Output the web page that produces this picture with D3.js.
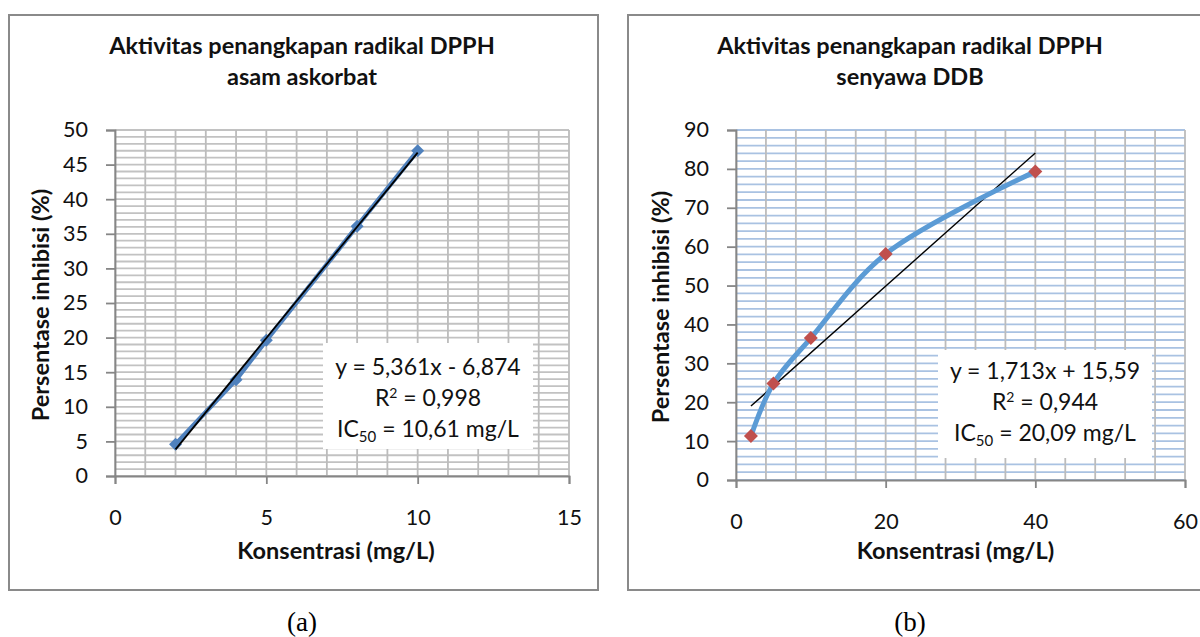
<!DOCTYPE html>
<html><head><meta charset="utf-8">
<script src="https://cdn.jsdelivr.net/npm/d3@7"></script>
<style>
html,body{margin:0;padding:0;background:#fff;}
svg{display:block;}
</style></head>
<body><svg id="c" width="1200" height="637"></svg>
<script>
// ---- data ----
const concA = [2, 4, 5, 8, 10];
const inhibA = [4.6, 13.9, 19.6, 36.1, 47.0];
const concB = [2, 5, 10, 20, 40];
const inhibB = [11.3, 24.8, 36.5, 58.1, 79.3];
const trendA = [5.361, -6.874];   // slope, intercept
const trendB = [1.713, 15.59];
const xTicksA = [0, 5, 10, 15];
const yTicksA = [0, 5, 10, 15, 20, 25, 30, 35, 40, 45, 50];
const xTicksB = [0, 20, 40, 60];
const yTicksB = [0, 10, 20, 30, 40, 50, 60, 70, 80, 90];
const titleA = ["Aktivitas penangkapan radikal DPPH", "asam askorbat"];
const titleB = ["Aktivitas penangkapan radikal DPPH", "senyawa DDB"];
const eqA = ["y = 5,361x - 6,874", "R² = 0,998", "10,61 mg/L"];
const eqB = ["y = 1,713x + 15,59", "R² = 0,944", "20,09 mg/L"];
const xLabel = "Konsentrasi (mg/L)";
const yLabel = "Persentase inhibisi (%)";
const panelLabels = ["(a)", "(b)"];

const svg = d3.select("#c");
const FONT = "Lato, 'Open Sans', sans-serif";

function drawChart(o) {
  const g = svg.append("g");
  g.append("rect").attr("x", o.box[0]).attr("y", o.box[1])
    .attr("width", o.box[2] - o.box[0]).attr("height", o.box[3] - o.box[1])
    .attr("fill", "#fff").attr("stroke", "#8a8a8a").attr("stroke-width", 2);

  const x = d3.scaleLinear().domain(o.xDomain).range([o.plot[0], o.plot[1]]);
  const y = d3.scaleLinear().domain(o.yDomain).range([o.plot[3], o.plot[2]]);

  const hg = d3.range(o.yDomain[0], o.yDomain[1] + 1e-9, o.yMinor);
  g.append("g").selectAll("line").data(hg).join("line")
    .attr("x1", o.plot[0]).attr("x2", o.plot[1])
    .attr("y1", d => y(d)).attr("y2", d => y(d))
    .attr("stroke", o.hColor).attr("stroke-width", 1.8);
  const vg = d3.range(o.xDomain[0], o.xDomain[1] + 1e-9, o.xMinor);
  g.append("g").selectAll("line").data(vg).join("line")
    .attr("y1", o.plot[2]).attr("y2", o.plot[3])
    .attr("x1", d => x(d)).attr("x2", d => x(d))
    .attr("stroke", "#bcbcbc").attr("stroke-width", 1.8);

  const ax = g.append("g").attr("transform", `translate(0,${o.plot[3]})`)
    .call(d3.axisBottom(x).tickValues(o.xTicks).tickSize(8).tickFormat(d3.format("d")));
  ax.selectAll(".tick text").attr("y", o.xLabelOff).attr("dy", null);
  const ay = g.append("g").attr("transform", `translate(${o.plot[0]},0)`)
    .call(d3.axisLeft(y).tickValues(o.yTicks).tickSize(9).tickPadding(18).tickFormat(d3.format("d")));
  [ax, ay].forEach(a => {
    a.select(".domain").attr("stroke", "#868686").attr("stroke-width", 1.8);
    a.selectAll(".tick line").attr("stroke", "#868686").attr("stroke-width", 1.8);
    a.selectAll(".tick text").attr("fill", "#111").style("font-family", FONT).style("font-size", "21.5px");
  });

  const tl = [o.xs[0], o.xs[o.xs.length - 1]].map(v => [v, o.trend[0] * v + o.trend[1]]);
  const pts = o.xs.map((v, i) => [v, o.ys[i]]);
  const line = d3.line().x(d => x(d[0])).y(d => y(d[1])).curve(o.curve);
  const straight = d3.line().x(d => x(d[0])).y(d => y(d[1]));

  if (o.trendFirst) {
    g.append("path").attr("d", straight(tl))
      .attr("stroke", "#000").attr("stroke-width", 1.4).attr("fill", "none");
  }
  g.append("path").attr("d", line(pts)).attr("fill", "none")
    .attr("stroke", o.lineColor).attr("stroke-width", o.lineWidth).attr("stroke-linejoin", "round");
  const ms = o.markerSize;
  g.append("g").selectAll("path").data(pts).join("path")
    .attr("d", `M0,${-ms}L${ms},0L0,${ms}L${-ms},0Z`)
    .attr("transform", d => `translate(${x(d[0])},${y(d[1])})`)
    .attr("fill", o.markerColor);
  if (!o.trendFirst) {
    g.append("path").attr("d", straight(tl))
      .attr("stroke", "#000").attr("stroke-width", 1.8).attr("fill", "none");
  }

  // equation box
  g.append("rect").attr("x", o.eqBox[0]).attr("y", o.eqBox[1])
    .attr("width", o.eqBox[2]).attr("height", o.eqBox[3]).attr("fill", "#fff");
  const cx = o.eqBox[0] + o.eqBox[2] / 2;
  const et = g.append("g").style("font-family", FONT).style("font-size", "23px")
    .attr("text-anchor", "middle").attr("fill", "#111");
  et.append("text").attr("x", cx).attr("y", o.eqBase).text(o.eq[0]);
  const r2 = o.eq[1].split("²");
  const t2 = et.append("text").attr("x", cx).attr("y", o.eqBase + 31);
  t2.append("tspan").text(r2[0]);
  t2.append("tspan").attr("dy", -8).style("font-size", "14px").text("2");
  t2.append("tspan").attr("dy", 8).text(r2[1]);
  const t3 = et.append("text").attr("x", cx).attr("y", o.eqBase + 62);
  t3.append("tspan").text("IC");
  t3.append("tspan").attr("dy", 5).style("font-size", "15px").text("50");
  t3.append("tspan").attr("dy", -5).text(" = " + o.eq[2]);

  const tt = g.append("g").style("font-family", FONT).style("font-size", "23.5px")
    .style("font-weight", "bold").attr("text-anchor", "middle").attr("fill", "#111");
  o.title.forEach((s, i) => tt.append("text").attr("x", o.titleX).attr("y", 54 + i * 31).text(s));
  g.append("text").attr("x", (o.plot[0] + o.plot[1]) / 2 + o.xLabelShift).attr("y", 559)
    .attr("text-anchor", "middle").style("font-family", FONT).style("font-size", "23.5px")
    .style("font-weight", "bold").attr("fill", "#111").text(xLabel);
  g.append("text").attr("transform", `translate(${o.yLabelX},${(o.plot[2] + o.plot[3]) / 2 + 2}) rotate(-90)`)
    .attr("text-anchor", "middle").style("font-family", FONT).style("font-size", "23.5px")
    .style("font-weight", "bold").attr("fill", "#111").text(yLabel);
  svg.append("text").attr("x", o.titleX).attr("y", 631).attr("text-anchor", "middle")
    .style("font-family", "'Liberation Serif', 'DejaVu Serif', serif").style("font-size", "27px")
    .text(o.panel);
}

drawChart({
  box: [9, 15, 598, 590], plot: [115, 569, 130, 476],
  xDomain: [0, 15], yDomain: [0, 50], xMinor: 1, yMinor: 1,
  xTicks: xTicksA, yTicks: yTicksA, xs: concA, ys: inhibA, trend: trendA,
  hColor: "#c2c2c2", lineColor: "#4f81bd", lineWidth: 4.5, markerColor: "#4f81bd", markerSize: 6.5,
  curve: d3.curveLinear, trendFirst: false, xLabelOff: 49, xLabelShift: -6,
  eqBox: [323, 343, 210, 106], eqBase: 375, eq: eqA, title: titleA, titleX: 302, yLabelX: 49, panel: panelLabels[0]
});
drawChart({
  box: [628, 15, 1215, 590], plot: [736, 1185, 130, 480],
  xDomain: [0, 60], yDomain: [0, 90], xMinor: 4, yMinor: 2,
  xTicks: xTicksB, yTicks: yTicksB, xs: concB, ys: inhibB, trend: trendB,
  hColor: "#a9c2e2", lineColor: "#5b9bd5", lineWidth: 5, markerColor: "#c0504d", markerSize: 7,
  curve: d3.curveCatmullRom.alpha(0.5), trendFirst: true, xLabelOff: 49, xLabelShift: -5,
  eqBox: [938, 350, 214, 108], eqBase: 379, eq: eqB, title: titleB, titleX: 910, yLabelX: 669, panel: panelLabels[1]
});
</script></body></html>
